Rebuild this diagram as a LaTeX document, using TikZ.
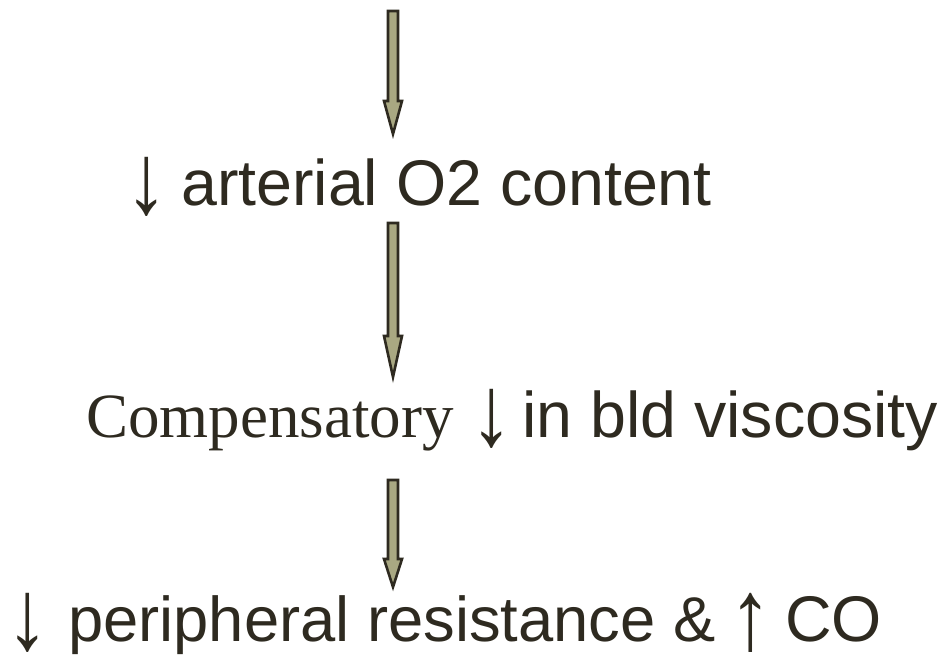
\documentclass[tikz,border=0pt]{standalone}
\usepackage{fontspec}
\setmainfont{Liberation Sans}
\newfontfamily\serifpart{Liberation Serif}
\definecolor{ink}{HTML}{2E2A20}
\definecolor{khaki}{HTML}{A9A882}
\tikzset{
  label text/.style={anchor=base west, inner sep=0pt, text=ink, font=\fontsize{64.5}{74}\selectfont},
  arrow glyph/.style={anchor=base, inner sep=0pt, text=ink, font=\fontsize{100}{100}\selectfont},
  blockarrow/.style={draw=ink, fill=khaki, line width=2.6pt, line join=miter}
}
\newcommand\glyphbox[1]{\raisebox{-8pt}{\scalebox{0.85}[1]{#1}}}
\newcommand\blockarr[3]{% top, head start, tip (x centre 393)
  \draw[blockarrow] (388,#1) -- (398,#1) -- (398,#2) -- (402,#2) -- (393,#3) -- (384,#2) -- (388,#2) -- cycle;}
\begin{document}
\begin{tikzpicture}[x=1pt,y=-1pt]
\useasboundingbox (0,0) rectangle (944,656);
% line 1
\node[arrow glyph] (d1) at (147,205) {\glyphbox{↓}};
\node[label text] (l1) at (181,205) {arterial O2 content};
% line 2
\node[label text] (c2) at (86,437) {\serifpart\fontsize{63}{74}\selectfont Compensatory};
\node[arrow glyph] (d2) at (492,437) {\glyphbox{↓}};
\node[label text] (l2) at (522,437) {in bld viscosity};
% line 3
\node[arrow glyph] (d3) at (28,641) {\glyphbox{↓}};
\node[label text, font=\fontsize{63.3}{74}\selectfont] (l3) at (68,641) {peripheral resistance \&};
\node[arrow glyph] (u3) at (751,641) {\glyphbox{↑}};
\node[label text] (co) at (785,641) {CO};
% block arrows
\blockarr{11}{101}{134}
\blockarr{223}{336}{377}
\blockarr{480}{559}{587}
\end{tikzpicture}
\end{document}
